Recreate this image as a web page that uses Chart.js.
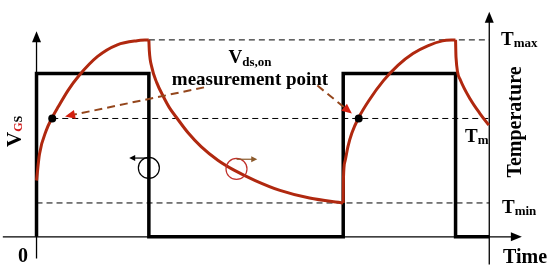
<!DOCTYPE html>
<html lang="en">
<head>
<meta charset="UTF-8">
<title>Gate pulse and temperature</title>
<script src="https://cdn.jsdelivr.net/npm/chart.js"></script>
<style>
  body { margin: 0; background: #fff; }
  .wrap { position: relative; width: 550px; height: 268px; }
</style>
</head>
<body>
<div class="wrap"><canvas id="tempChart"></canvas></div>
<script>
  // time in units where one gate pulse lasts 10; level in units where Tmax = 100
  const gateTime  = [0, 0, 10, 10, 27.3, 27.3, 37.3, 37.3, 40.3];
  const gateLevel = [0, 83, 83, 0, 0, 83, 83, 0, 0];

  const rise1Time = [0, 0.26, 0.88, 1.40, 1.93, 2.81, 3.77, 5.44, 7.19, 8.95, 10.0];
  const rise1Temp = [28.6, 41.9, 54.2, 60.6, 66.0, 74.4, 81.8, 91.6, 97.5, 99.6, 100];
  const fall1Time = [10, 10.04, 10.26, 10.70, 11.32, 11.84, 12.46, 13.51, 14.65, 16.14, 17.54, 19.47, 21.67, 24.30, 27.3];
  const fall1Temp = [100, 94.6, 86.2, 78.3, 70.9, 65.5, 60.6, 52.7, 45.8, 38.9, 34.0, 28.6, 23.6, 19.7, 17.2];
  const rise2Time = [27.3, 27.32, 27.46, 27.72, 28.07, 28.68, 29.56, 30.88, 32.19, 33.51, 34.82, 36.14, 37.3];
  const rise2Temp = [17.2, 29.6, 38.4, 45.8, 52.7, 60.6, 69.0, 79.3, 87.2, 93.1, 97.0, 99.5, 100];
  const fall2Time = [37.3, 37.34, 37.72, 38.60, 39.47, 40.26];
  const fall2Temp = [100, 91.1, 79.8, 70.0, 62.6, 56.7];

  const tMax = 100, tM = 60.1, tMin = 17.2;
  const sampleTime = [1.40, 28.68];
  const axisEnd = 40.3;

  const pts = (xs, ys) => xs.map((x, i) => ({ x: x, y: ys[i] }));
  const RED = '#b0280f';

  function curve(xs, ys) {
    return { data: pts(xs, ys), borderColor: RED, borderWidth: 3, pointRadius: 0,
             cubicInterpolationMode: 'monotone' };
  }
  function dashed(from, level) {
    return { data: pts([from, axisEnd], [level, level]), borderColor: '#000', borderWidth: 1,
             borderDash: [6, 4], pointRadius: 0 };
  }

  function arrowHead(ctx, x0, y0, x1, y1, len, half) {
    const a = Math.atan2(y1 - y0, x1 - x0);
    ctx.beginPath();
    ctx.moveTo(x1, y1);
    ctx.lineTo(x1 - len * Math.cos(a) + half * Math.sin(a), y1 - len * Math.sin(a) - half * Math.cos(a));
    ctx.lineTo(x1 - len * Math.cos(a) - half * Math.sin(a), y1 - len * Math.sin(a) + half * Math.cos(a));
    ctx.closePath();
    ctx.fill();
  }

  function subText(ctx, x, y, big, small, bigSize, smallSize, drop) {
    ctx.font = 'bold ' + bigSize + 'px "Liberation Serif", serif';
    ctx.fillText(big, x, y);
    const w = ctx.measureText(big).width;
    ctx.font = 'bold ' + smallSize + 'px "Liberation Serif", serif';
    ctx.fillText(small, x + w, y + drop);
  }

  const sketch = {
    id: 'sketch',
    beforeDatasetsDraw(chart) {
      const { ctx, scales: { x, y } } = chart;
      const X = v => x.getPixelForValue(v), Y = v => y.getPixelForValue(v);
      ctx.save();
      ctx.strokeStyle = '#000';
      ctx.fillStyle = '#000';
      ctx.lineWidth = 1.3;
      // time axis
      ctx.beginPath();
      ctx.moveTo(X(-3), Y(0));
      ctx.lineTo(X(42.5), Y(0));
      ctx.stroke();
      arrowHead(ctx, X(0), Y(0), X(43.2), Y(0), 11, 4.5);
      // VGS axis
      ctx.beginPath();
      ctx.moveTo(X(0), Y(-11));
      ctx.lineTo(X(0), Y(100));
      ctx.stroke();
      arrowHead(ctx, X(0), Y(0), X(0), Y(104.4), 11, 4.5);
      // temperature axis
      ctx.beginPath();
      ctx.moveTo(X(axisEnd), Y(-14));
      ctx.lineTo(X(axisEnd), Y(110));
      ctx.stroke();
      arrowHead(ctx, X(axisEnd), Y(0), X(axisEnd), Y(114.3), 11, 4.5);
      ctx.restore();
    },
    afterDatasetsDraw(chart) {
      const { ctx, scales: { x, y } } = chart;
      const X = v => x.getPixelForValue(v), Y = v => y.getPixelForValue(v);
      ctx.save();
      ctx.fillStyle = '#000';
      ctx.textBaseline = 'alphabetic';
      ctx.textAlign = 'left';

      // labels on the right
      subText(ctx, 501, 45, 'T', 'max', 19, 13, 2);
      subText(ctx, 465, 142, 'T', 'm', 19, 13, 2);
      subText(ctx, 502, 213, 'T', 'min', 19, 13, 2);
      ctx.font = 'bold 20px "Liberation Serif", serif';
      ctx.fillText('Time', 503, 263);
      ctx.fillText('0', 18, 262);

      ctx.save();
      ctx.translate(521, 122);
      ctx.rotate(-Math.PI / 2);
      ctx.textAlign = 'center';
      ctx.font = 'bold 20px "Liberation Serif", serif';
      ctx.fillText('Temperature', 0, 0);
      ctx.restore();

      // V_GS, rotated
      ctx.save();
      ctx.translate(21, 147);
      ctx.rotate(-Math.PI / 2);
      ctx.font = 'bold 21px "Liberation Serif", serif';
      ctx.fillText('V', 0, 0);
      let w = ctx.measureText('V').width;
      ctx.font = 'bold 12px "Liberation Serif", serif';
      ctx.fillStyle = '#d01818';
      ctx.fillText('G', w, 1);
      w += ctx.measureText('G').width;
      ctx.fillStyle = '#000';
      ctx.fillText('S', w, 1);
      ctx.restore();

      // measurement point caption
      ctx.font = 'bold 19px "Liberation Serif", serif';
      const vw = ctx.measureText('V').width;
      ctx.font = 'bold 13px "Liberation Serif", serif';
      const sw = ctx.measureText('ds,on').width;
      subText(ctx, 250 - (vw + sw) / 2, 63, 'V', 'ds,on', 19, 13, 3);
      ctx.textAlign = 'center';
      ctx.font = 'bold 19px "Liberation Serif", serif';
      ctx.fillText('measurement point', 250, 85);
      ctx.textAlign = 'left';

      // dashed pointer arrows
      ctx.strokeStyle = '#94461c';
      ctx.lineWidth = 2;
      ctx.setLineDash([8, 5]);
      const arrows = [[14.91, 75.9, 2.54, 61.1], [25.0, 76.8, 28.07, 62.6]];
      arrows.forEach(a => {
        const x0 = X(a[0]), y0 = Y(a[1]), x1 = X(a[2]), y1 = Y(a[3]);
        const ang = Math.atan2(y1 - y0, x1 - x0);
        ctx.beginPath();
        ctx.moveTo(x0, y0);
        ctx.lineTo(x1 - 8 * Math.cos(ang), y1 - 8 * Math.sin(ang));
        ctx.stroke();
        ctx.fillStyle = '#d42010';
        arrowHead(ctx, x0, y0, x1, y1, 10, 4.5);
      });
      ctx.setLineDash([]);

      // axis-side markers
      ctx.lineWidth = 1.2;
      ctx.strokeStyle = '#000';
      ctx.fillStyle = '#000';
      ctx.beginPath();
      ctx.arc(X(10), Y(35), 10.5, 0, Math.PI * 2);
      ctx.stroke();
      ctx.beginPath();
      ctx.moveTo(X(10), Y(40));
      ctx.lineTo(X(8.6), Y(40));
      ctx.stroke();
      arrowHead(ctx, X(10), Y(40), X(8.25), Y(40), 6, 3);

      ctx.strokeStyle = '#c0302a';
      ctx.beginPath();
      ctx.arc(X(17.8), Y(34.5), 10.5, 0, Math.PI * 2);
      ctx.stroke();
      ctx.strokeStyle = '#8b5a2b';
      ctx.fillStyle = '#8b5a2b';
      ctx.beginPath();
      ctx.moveTo(X(17.8), Y(39.4));
      ctx.lineTo(X(19.3), Y(39.4));
      ctx.stroke();
      arrowHead(ctx, X(17.8), Y(39.4), X(19.65), Y(39.4), 6, 3);
      ctx.restore();
    }
  };

  const chart = new Chart(document.getElementById('tempChart'), {
    type: 'line',
    data: {
      datasets: [
        { data: pts(sampleTime, [tM, tM]), showLine: false, pointRadius: 4,
          pointBackgroundColor: '#000', pointBorderColor: '#000', borderWidth: 0 },
        curve(rise1Time, rise1Temp),
        curve(fall1Time, fall1Temp),
        curve(rise2Time, rise2Temp),
        curve(fall2Time, fall2Temp),
        { data: pts(gateTime, gateLevel), borderColor: '#000', borderWidth: 3.5, pointRadius: 0,
          tension: 0, borderJoinStyle: 'miter' },
        dashed(10, tMax),
        dashed(sampleTime[0], tM),
        dashed(0, tMin)
      ]
    },
    options: {
      responsive: true,
      maintainAspectRatio: false,
      animation: false,
      layout: { padding: 0 },
      plugins: { legend: { display: false }, tooltip: { enabled: false } },
      scales: {
        x: { type: 'linear', display: false, min: -2.895, max: 45.35 },
        y: { type: 'linear', display: false, min: -13.79, max: 118.23 }
      }
    },
    plugins: [sketch]
  });
</script>
</body>
</html>
